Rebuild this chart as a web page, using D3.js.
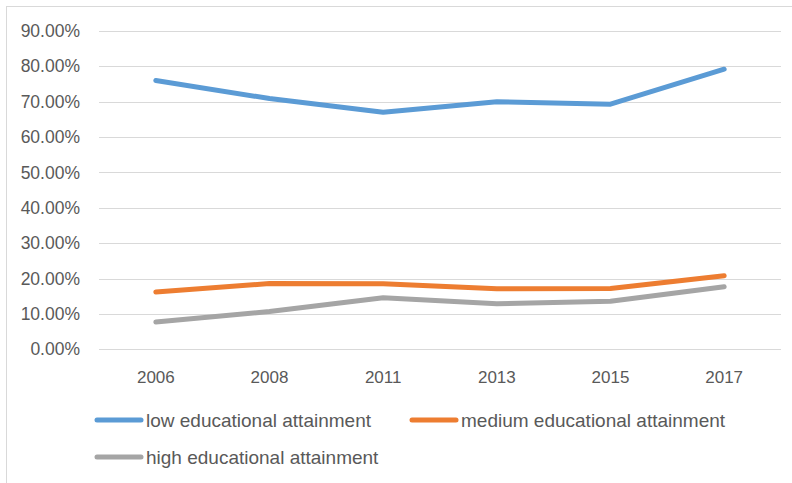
<!DOCTYPE html>
<html><head><meta charset="utf-8">
<script src="https://cdn.jsdelivr.net/npm/d3@7"></script>
<style>body{margin:0;background:#fff;} text{font-family:"Liberation Sans",Arial,sans-serif;}</style>
</head><body>
<svg id="c" width="792" height="483"></svg>
<script>
const years = ["2006","2008","2011","2013","2015","2017"];
const lowEdu = [76.0, 70.9, 67.0, 70.0, 69.3, 79.2];
const mediumEdu = [16.2, 18.6, 18.5, 17.1, 17.2, 20.8];
const highEdu = [7.7, 10.7, 14.6, 12.9, 13.6, 17.7];
const yTicks = [0,10,20,30,40,50,60,70,80,90];
const seriesNames = ["low educational attainment","medium educational attainment","high educational attainment"];
const colors = ["#5B9BD5","#ED7D31","#A5A5A5"];

const series = [lowEdu, mediumEdu, highEdu].map((v,i)=>({name:seriesNames[i], color:colors[i], values:v}));

const svg = d3.select("#c");
svg.append("rect").attr("x",6.5).attr("y",6.5).attr("width",900).attr("height",600)
  .attr("fill","#fff").attr("stroke","#D9D9D9").attr("stroke-width",1);

const x = d3.scaleBand().domain(years).range([99,781]);
const y = d3.scaleLinear().domain([0,90]).range([349.3,31]);

// gridlines
svg.append("g").selectAll("line").data(yTicks).join("line")
  .attr("x1",99).attr("x2",781)
  .attr("y1",d=>Math.round(y(d))+0.5).attr("y2",d=>Math.round(y(d))+0.5)
  .attr("stroke","#D9D9D9").attr("stroke-width",1);

// y axis labels
const yAxis = d3.axisLeft(y).tickValues(yTicks).tickSize(0).tickPadding(0)
  .tickFormat(d=>d.toFixed(2)+"%");
const gy = svg.append("g").attr("transform","translate(80,0)").call(yAxis);
gy.select(".domain").remove();
gy.selectAll("text").attr("fill","#595959").style("font-size","17.5px")
  .style("font-family","'Liberation Sans',Arial,sans-serif");

// x axis labels
const xAxis = d3.axisBottom(x).tickSize(0).tickPadding(0);
const gx = svg.append("g").attr("transform","translate(0,371)").call(xAxis);
gx.select(".domain").remove();
gx.selectAll("text").attr("fill","#595959").style("font-size","17px")
  .style("font-family","'Liberation Sans',Arial,sans-serif");

const line = d3.line().x((d,i)=>x(years[i])+x.bandwidth()/2).y(d=>y(d));
svg.append("g").selectAll("path").data(series).join("path")
  .attr("d",d=>line(d.values)).attr("fill","none")
  .attr("stroke",d=>d.color).attr("stroke-width",5)
  .attr("stroke-linecap","round").attr("stroke-linejoin","round");

// legend
const legendPos = [{x:97,y:420},{x:412,y:420},{x:97,y:457}];
const lg = svg.append("g").selectAll("g").data(series).join("g")
  .attr("transform",(d,i)=>`translate(${legendPos[i].x},${legendPos[i].y})`);
lg.append("line").attr("x1",0).attr("x2",44).attr("y1",0).attr("y2",0)
  .attr("stroke",d=>d.color).attr("stroke-width",5).attr("stroke-linecap","round");
lg.append("text").attr("x",49).attr("y",0).attr("dy","0.35em")
  .attr("fill","#595959").style("font-size","19px").text(d=>d.name);
</script>
</body></html>
